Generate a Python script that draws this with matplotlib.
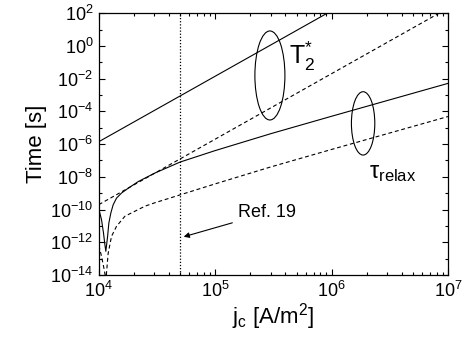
import matplotlib
matplotlib.use("Agg")
import matplotlib.pyplot as plt
from matplotlib.patches import Ellipse
from matplotlib.ticker import NullFormatter, LogLocator

plt.rcParams['font.family'] = ['Liberation Sans', 'DejaVu Sans']
plt.rcParams['mathtext.fontset'] = 'custom'
plt.rcParams['mathtext.rm'] = 'Liberation Sans'
plt.rcParams['mathtext.it'] = 'Liberation Sans:italic'

# T2* (straight lines on log-log, end points)
t2_j = [1e4, 1e7]
t2_solid = [1.4e-6, 1.4e6]
t2_dashed = [2.0e-10, 2.0e2]

# tau_relax, solid
tau_j_solid = [1.0e4, 1.054e4, 1.096e4, 1.127e4, 1.148e4, 1.189e4, 1.219e4,
               1.268e4, 1.327e4, 1.419e4, 1.567e4, 1.786e4, 2.178e4, 3.034e4,
               5e4, 1e5, 3e5, 1e6, 1e7]
tau_solid = [1.05e-10, 2.4e-11, 3.7e-12, 7e-13, 2.8e-13, 2.3e-12, 1.5e-11,
             6.2e-11, 1.95e-10, 5e-10, 1.02e-9, 2.0e-9, 5.1e-9, 1.7e-8,
             8.0e-8, 4.0e-7, 4.3e-6, 5.0e-5, 5.1e-3]

# tau_relax, dashed
tau_j_dashed = [1.0e4, 1.054e4, 1.112e4, 1.15e4, 1.202e4, 1.285e4, 1.419e4,
                1.675e4, 2.042e4, 2.489e4, 3.034e4, 5e4, 1e5, 3e5, 1e6, 1e7]
tau_dashed = [6.3e-13, 1.4e-13, 2.1e-14, 5e-15, 2.1e-13, 2.3e-12, 9.5e-12,
              3.9e-11, 7.9e-11, 1.6e-10, 2.6e-10, 7.9e-10, 3.7e-9, 4.0e-8,
              4.7e-7, 4.8e-5]

ref_j = 5e4
y_major = [1e-14, 1e-12, 1e-10, 1e-8, 1e-6, 1e-4, 1e-2, 1e0, 1e2]
y_minor = [1e-13, 1e-11, 1e-9, 1e-7, 1e-5, 1e-3, 1e-1, 1e1]

fig = plt.figure(figsize=(4.73, 3.37), dpi=100)
ax = fig.add_axes([0.209, 0.184, 0.738, 0.777])

lw = 0.8
dash = (0, (3.5, 2.5))
ax.plot(t2_j, t2_solid, color='black', lw=lw)
ax.plot(t2_j, t2_dashed, color='black', lw=lw, linestyle=dash)
ax.plot(tau_j_solid, tau_solid, color='black', lw=lw)
ax.plot(tau_j_dashed, tau_dashed, color='black', lw=lw, linestyle=dash)
ax.axvline(ref_j, color='black', lw=0.9, linestyle=(0, (1, 1.5)))

ax.set_xscale('log')
ax.set_yscale('log')
ax.set_xlim(1e4, 1e7)
ax.set_ylim(1e-14, 1e2)

ax.set_yticks(y_major)
ax.set_yticks(y_minor, minor=True)
ax.yaxis.set_minor_formatter(NullFormatter())
ax.xaxis.set_major_locator(LogLocator(base=10))
ax.xaxis.set_minor_locator(LogLocator(base=10, subs=range(2, 10)))
ax.xaxis.set_minor_formatter(NullFormatter())

ax.tick_params(which='both', direction='in', top=True, right=True,
               width=0.8, labelsize=13)
ax.tick_params(which='major', length=4.5, pad=4)
ax.tick_params(which='minor', length=2.5)
for s in ax.spines.values():
    s.set_linewidth(0.9)

ax.set_ylabel('Time [s]', fontsize=16, labelpad=2)
ax.set_xlabel(r'j$_\mathregular{c}$ [A/m$^\mathregular{2}$]', fontsize=16,
              labelpad=0)

# annotation ellipses
ax.add_patch(Ellipse((0.490, 0.762), 0.086, 0.34, transform=ax.transAxes,
                     fill=False, lw=0.8, color='black'))
ax.add_patch(Ellipse((0.757, 0.579), 0.067, 0.242, transform=ax.transAxes,
                     fill=False, lw=0.8, color='black'))

ax.text(0.545, 0.835, r'T$_\mathregular{2}^\mathregular{*}$', fontsize=18,
        transform=ax.transAxes, va='center', ha='left')
ax.text(0.775, 0.39, r'τ$_\mathregular{relax}$', fontsize=17,
        transform=ax.transAxes, va='center', ha='left')

ax.annotate('Ref. 19', xy=(0.243, 0.146), xycoords='axes fraction',
            xytext=(0.398, 0.237), textcoords='axes fraction',
            fontsize=13, va='center', ha='left',
            arrowprops=dict(arrowstyle='-|>', color='black', lw=0.8,
                            mutation_scale=8, shrinkA=2, shrinkB=0))

fig.savefig('out.png', dpi=100)
